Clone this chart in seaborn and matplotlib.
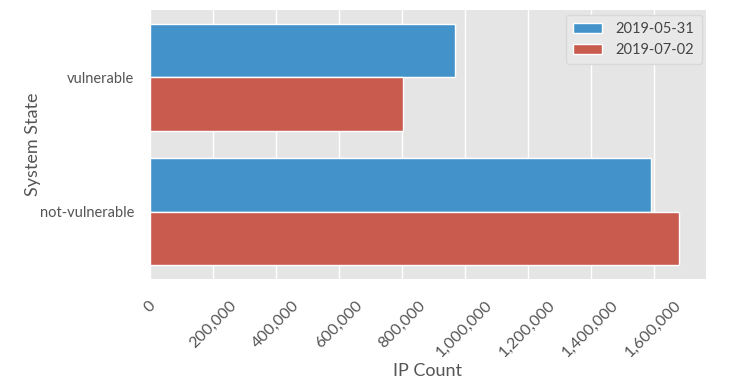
import matplotlib
matplotlib.use("Agg")
import matplotlib.pyplot as plt
import matplotlib.ticker as mticker
import pandas as pd
import seaborn as sns

states = ["vulnerable", "not-vulnerable"]
dates = ["2019-05-31", "2019-07-02"]
counts_0531 = [970000, 1591000]
counts_0702 = [804000, 1682000]
colors = ["#4393CA", "#C95B4E"]

df = pd.DataFrame({
    "System State": states * 2,
    "date": [dates[0]] * 2 + [dates[1]] * 2,
    "IP Count": counts_0531 + counts_0702,
})

sns.set_theme(style="darkgrid", rc={
    "axes.facecolor": "#E5E5E5",
    "grid.color": "white",
    "grid.linewidth": 1.0,
})
plt.rcParams["font.family"] = ["Lato", "DejaVu Sans"]

fig = plt.figure(figsize=(7.3, 3.9), dpi=100)
ax = fig.add_axes([0.205, 0.285, 0.762, 0.689])

sns.barplot(data=df, y="System State", x="IP Count", hue="date",
            palette=colors, orient="h", ax=ax, saturation=1, width=0.8)

ax.xaxis.set_major_locator(mticker.MultipleLocator(200000))
ax.xaxis.set_major_formatter(mticker.FuncFormatter(lambda v, p: f"{int(v):,}"))
ax.tick_params(axis="both", colors="#555555", length=0)
ax.tick_params(axis="x", pad=14, labelsize=11.5)
ax.tick_params(axis="y", pad=11, labelsize=10.5)
plt.setp(ax.get_xticklabels(), rotation=45)
ax.set_xlabel("IP Count", fontsize=13, color="#555555", labelpad=2)
ax.set_ylabel("System State", fontsize=13, color="#555555", labelpad=-1)
ax.grid(axis="y", visible=False)
for s in ax.spines.values():
    s.set_visible(False)

leg = ax.legend(loc="upper right", fontsize=10.5, frameon=True, title=None,
                facecolor="#E8E8E8", edgecolor="#D8D8D8", framealpha=1,
                handlelength=2.0, handleheight=0.7, borderpad=0.5,
                handletextpad=0.9, borderaxespad=0.3)
for t in leg.get_texts():
    t.set_color("#444444")

fig.savefig("out.png", dpi=100)
